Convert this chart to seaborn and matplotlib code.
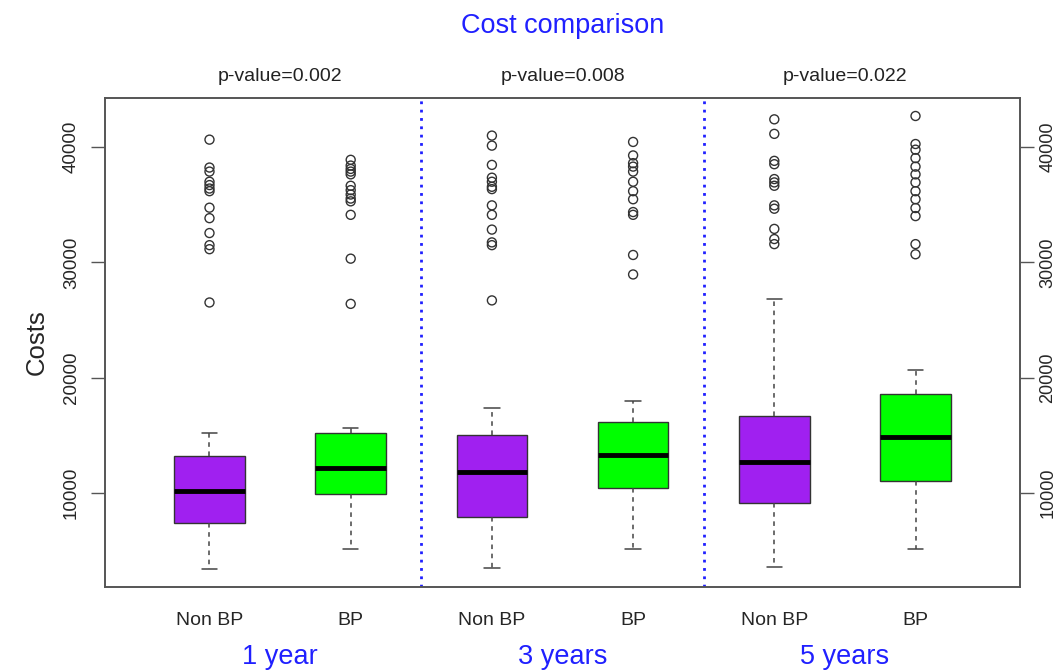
import matplotlib
matplotlib.use("Agg")
import matplotlib.pyplot as plt
import seaborn as sns
import pandas as pd

# valeurs (coûts)
groupes = ["1 year", "3 years", "5 years"]
etiquettes = ["Non BP", "BP", "Non BP", "BP", "Non BP", "BP"]
p_valeurs = ["p-value=0.002", "p-value=0.008", "p-value=0.022"]

moustache_bas = [3400, 5150, 3510, 5175, 3570, 5120]
q1 = [7380, 9950, 7900, 10440, 9150, 11050]
mediane = [10180, 12210, 11840, 13300, 12660, 14880]
q3 = [13200, 15160, 15000, 16140, 16670, 18570]
moustache_haut = [15240, 15620, 17340, 17980, 26810, 20670]

aberrants = [
    [40640, 38220, 37870, 36990, 36700, 36400, 36170, 34740, 33830, 32540, 31490, 31140, 26520],
    [38890, 38390, 38100, 37870, 37630, 36640, 36260, 35880, 35530, 35290, 34120, 30320, 26400],
    [40990, 40120, 38450, 37340, 36990, 36550, 36350, 34940, 34120, 32840, 31730, 31490, 26700],
    [40440, 39270, 38600, 38300, 37870, 36990, 36170, 35470, 34360, 34120, 30640, 28950],
    [42400, 41140, 38800, 38510, 37220, 36930, 36640, 34940, 34650, 32900, 32020, 31580],
    [42690, 40260, 39770, 39040, 38300, 37630, 36930, 36170, 35470, 34710, 34010, 31580, 30700],
]

couleurs = ["#A020F0", "#00FF00"] * 3
positions = [1, 2, 3, 4, 5, 6]

sns.set_theme(style="white")
plt.rcParams["font.family"] = ["Liberation Sans", "DejaVu Sans"]

fig = plt.figure(figsize=(10.61, 6.71), dpi=100)
ax = fig.add_axes([105 / 1061, 1 - 587 / 671, 915 / 1061, 489 / 671])

stats = []
for i in range(6):
    stats.append({"whislo": moustache_bas[i], "q1": q1[i], "med": mediane[i],
                  "q3": q3[i], "whishi": moustache_haut[i], "fliers": []})

boites = ax.bxp(stats, positions=positions, widths=0.5, patch_artist=True,
                showfliers=False,
                boxprops={"edgecolor": "#333333", "linewidth": 1.0},
                medianprops={"color": "black", "linewidth": 3.5},
                whiskerprops={"color": "#444444", "linewidth": 1.1, "linestyle": (0, (3, 3))},
                capprops={"color": "#444444", "linewidth": 1.1},
                capwidths=0.11)
for patch, c in zip(boites["boxes"], couleurs):
    patch.set_facecolor(c)

# points aberrants
lignes = []
for pos, vals in zip(positions, aberrants):
    for v in vals:
        lignes.append({"pos": pos, "cost": v})
df = pd.DataFrame(lignes)
sns.scatterplot(data=df, x="pos", y="cost", ax=ax, marker="o", s=42,
                facecolors="none", edgecolors="#333333", linewidth=1.0, zorder=3)

for x in [2.5, 4.5]:
    ax.axvline(x, color="#2020FF", linestyle=(0, (1, 2)), linewidth=2)

ax.set_xlim(0.26, 6.74)
ax.set_ylim(1850, 44250)
ax.set_xticks(positions)
ax.set_xticklabels(etiquettes, fontsize=14)
ax.tick_params(axis="x", length=0, pad=18)
ax.set_xlabel("")
ax.set_ylabel("Costs", fontsize=18.5, labelpad=10)

yt = [10000, 20000, 30000, 40000]
ax.set_yticks(yt)
ax.set_yticklabels([str(v) for v in yt], rotation=90, va="center", fontsize=13.5)
ax.tick_params(axis="y", left=True, length=10, width=1, color="#555555", pad=8)

ax2 = ax.twinx()
ax2.set_ylim(ax.get_ylim())
ax2.set_yticks(yt)
ax2.set_yticklabels([str(v) for v in yt], rotation=90, va="center", fontsize=13)
ax2.tick_params(axis="y", right=True, length=10, width=1, color="#555555", pad=4)

for a in (ax, ax2):
    for sp in a.spines.values():
        sp.set_color("#555555")
        sp.set_linewidth(1.2)

trans = ax.get_xaxis_transform()
for i, (g, p) in enumerate(zip(groupes, p_valeurs)):
    xc = 1.5 + 2 * i
    ax.text(xc, 1.043, p, transform=trans, ha="center", va="center", fontsize=14, color="#222222")
    ax.text(xc, -0.143, g, transform=trans, ha="center", va="center", fontsize=19.5, color="#2020FF")

ax.text(3.5, 1.147, "Cost comparison", transform=trans, ha="center", va="center",
        fontsize=19.5, color="#2020FF")

fig.savefig("out.png", dpi=100)
